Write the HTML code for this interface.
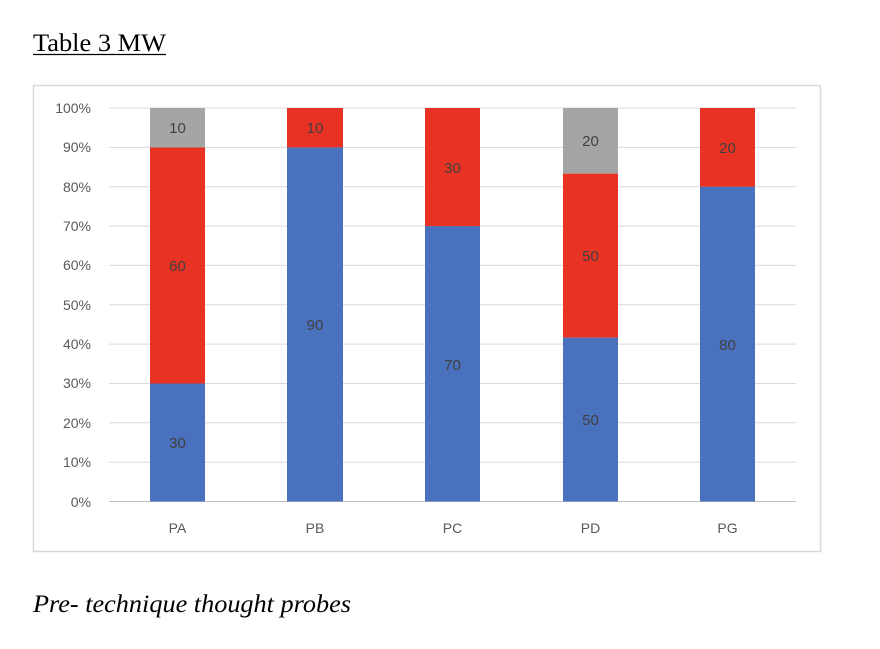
<!DOCTYPE html>
<html><head><style>
body{margin:0;background:#fff;}
svg text{font-family:"Liberation Sans",sans-serif;}
</style></head><body>
<svg width="880" height="644" xmlns="http://www.w3.org/2000/svg">
<text x="33" y="51" font-size="25" textLength="133" lengthAdjust="spacingAndGlyphs" style="font-family:'Liberation Serif',serif" fill="#000">Table 3 MW</text>
<line x1="33" y1="54.5" x2="166" y2="54.5" stroke="#000" stroke-width="1.2"/>
<rect x="33.5" y="85.5" width="787" height="466" fill="#fff" stroke="#d9d9d9" stroke-width="1.5"/>
<g stroke="#d9d9d9" stroke-width="1">
<line x1="109" y1="108" x2="796" y2="108"/>
<line x1="109" y1="147.4" x2="796" y2="147.4"/>
<line x1="109" y1="186.7" x2="796" y2="186.7"/>
<line x1="109" y1="226.1" x2="796" y2="226.1"/>
<line x1="109" y1="265.4" x2="796" y2="265.4"/>
<line x1="109" y1="304.8" x2="796" y2="304.8"/>
<line x1="109" y1="344.1" x2="796" y2="344.1"/>
<line x1="109" y1="383.5" x2="796" y2="383.5"/>
<line x1="109" y1="422.8" x2="796" y2="422.8"/>
<line x1="109" y1="462.2" x2="796" y2="462.2"/>
<line x1="109" y1="501.5" x2="796" y2="501.5" stroke="#bfbfbf"/>
</g>
<g font-size="14" fill="#595959" text-anchor="end">
<text x="91" y="113">100%</text><text x="91" y="152">90%</text><text x="91" y="192">80%</text>
<text x="91" y="231">70%</text><text x="91" y="270">60%</text><text x="91" y="310">50%</text>
<text x="91" y="349">40%</text><text x="91" y="388">30%</text><text x="91" y="428">20%</text>
<text x="91" y="467">10%</text><text x="91" y="507">0%</text>
</g>
<rect x="150" y="383.5" width="55" height="118" fill="#4a71bd"/>
<rect x="150" y="147.4" width="55" height="236.1" fill="#e83223"/>
<rect x="150" y="108" width="55" height="39.4" fill="#a5a5a5"/>
<rect x="287" y="147.4" width="56" height="354.1" fill="#4a71bd"/>
<rect x="287" y="108" width="56" height="39.4" fill="#e83223"/>
<rect x="425" y="226.1" width="55" height="275.4" fill="#4a71bd"/>
<rect x="425" y="108" width="55" height="118.1" fill="#e83223"/>
<rect x="563" y="337.6" width="55" height="163.9" fill="#4a71bd"/>
<rect x="563" y="173.6" width="55" height="164" fill="#e83223"/>
<rect x="563" y="108" width="55" height="65.6" fill="#a5a5a5"/>
<rect x="700" y="186.7" width="55" height="314.8" fill="#4a71bd"/>
<rect x="700" y="108" width="55" height="78.7" fill="#e83223"/>
<g font-size="15" fill="#404040" text-anchor="middle">
<text x="177.5" y="448">30</text><text x="177.5" y="271">60</text><text x="177.5" y="133">10</text>
<text x="315" y="330">90</text><text x="315" y="133">10</text>
<text x="452.5" y="370">70</text><text x="452.5" y="173">30</text>
<text x="590.5" y="425">50</text><text x="590.5" y="261">50</text><text x="590.5" y="146">20</text>
<text x="727.5" y="350">80</text><text x="727.5" y="153">20</text>
</g>
<g font-size="14" fill="#595959" text-anchor="middle">
<text x="177.5" y="533">PA</text><text x="315" y="533">PB</text><text x="452.5" y="533">PC</text>
<text x="590.5" y="533">PD</text><text x="727.5" y="533">PG</text>
</g>
<text x="33" y="612" font-size="25" font-style="italic" textLength="318" lengthAdjust="spacingAndGlyphs" style="font-family:'Liberation Serif',serif" fill="#000">Pre- technique thought probes</text>
</svg>
</body></html>
